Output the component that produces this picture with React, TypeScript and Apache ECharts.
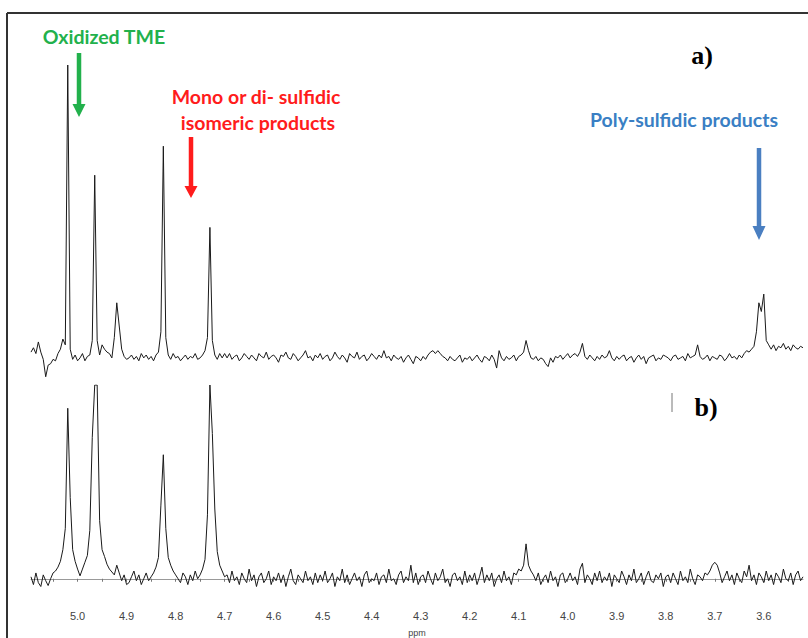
import React, { useEffect, useRef } from "react";
import * as echarts from "echarts";

// Sampling of the spectra (ppm axis, uniformly sampled, high -> low ppm)
const PPM_START = 5.095;
const PPM_STEP = 0.005;

// Trace a) intensities (relative units, baseline 0)
const TRACE_A = [
  1, 2.5, 0.5, 4.5, 1, -1.5, -7.5, -3.5, -3, -1.5, -2, 0.5, 2, 5.5, 3.5, 100, 2, -1.5, 0, -2,
  -1, 0.5, -2, -0.5, 0, 5, 62, 5, 0, 3.5, 2, 1, 0.5, -1, 6, 18, 10, 2, -0.5, -1.5,
  -1, 0, -1.5, -0.5, -2, 0.5, -1, 0, -1.5, -0.5, -2, 0, 1, 8, 72, 6, 0, -1.5, 0.5, -1,
  -0.5, -2, -1, 0, -1.5, -0.5, -1, 0.5, -1.5, -1, 0, 1.5, 6, 44, 5, 0, -1.5, 0.5, -1, 0.5,
  -1, 0.5, -1.5, -0.5, 0, -2, -1, 0.5, -0.5, -1.5, 0, -1, -2, 0.5, -0.5, -1, 1, -1.5, -0.5, 0,
  -1, -2.5, 0, -0.5, 1, -1, -1.5, 0.5, -0.5, -2, -1, 0, 1.5, -1, -0.5, -2, 0, -1, 0.5, -1.5,
  -0.5, 0, -2, -1, 1, -0.5, -1.5, 0, -1, -2.5, 0.5, -0.5, -1, 1, -1.5, -0.5, 0, -2, -1, 0.5,
  -0.5, -1.5, 0, -1, 1.5, -1, -0.5, -2, 0, -1, -1.5, -0.5, -2.5, -1, 0, -1.5, -3, -0.5, -1, -2,
  -0.5, -1.5, 0, 1, 1.5, 0.5, 1.5, 0.5, -0.5, -1, -2, -0.5, -1.5, -2, -1, 0, -2.5, -1, -1.5, -0.5,
  -2, -1, 0, -1.5, -2.5, -0.5, -1, -2, 0, -1.5, -4.5, 1.5, -1, -2, -0.5, -1.5, -1, 0, -2, -0.5,
  0, 1, 5, 1.5, -1, -1.5, -0.5, -2, -1, -1.5, -3, -4, -1, -2.5, -0.5, -1, 0, -1.5, -0.5, 0.5,
  -1, 0, 0.5, -0.5, 1, 4, -0.5, -1.5, 0, -1, -2, -0.5, -1.5, 0, -1, -0.5, 1.5, -1, -2, -0.5,
  -1.5, -0.5, 0, -2, -1, -0.5, -2.5, -1, 0, -1.5, -0.5, -3, -1, -0.5, 0, -2, -1, -1.5, 0, -0.5,
  -1, -2, -0.5, 0, -1.5, -1, -0.5, -2, 0.5, -1, -0.5, 0, 3.5, -0.5, -1.5, -1, 0, -2, -0.5, -1,
  -1.5, 0, -0.5, -2, -1, 0.5, -1, -0.5, -1.5, 0, -1, 0.5, 1.5, 1, 2, 3, 8, 18, 15, 21,
  5, 3.5, 2, 3.5, 1.5, 3, 2.5, 4, 2, 3, 1.5, 3.5, 2.5, 2, 3, 2.5,
];

// Trace b) intensities (relative units, baseline 0)
const TRACE_B = [
  1, -3, 3, -2, -4, 2, -1, -3.5, 0, 3, 4, 6, 9, 15, 26, 88, 42, 15, 9, 5,
  1.5, 5, 8.5, 12, 25, 73, 100, 100, 30, 15, 11.5, 7.5, 5, 3.5, 2, 7, 3, -1, 2, -3,
  -2, 1, 4, -1, 2, -3, 0, 3, -1, 1, 3, 6, 11, 38, 64, 26, 11, 7, 4, 2,
  0, -2, 3, 1, -3, 2, -1, 4, 0, 2, 5, 10, 33, 100, 75, 36, 14, 7, 4, 1,
  2, -2, 4, -1, 1, -3, 3, 0, -2, 5, -1, 2, -4, 1, 3, -2, 0, 4, -3, 1,
  -1, 3, -2, 2, -4, 1, 5, -1, -3, 2, 0, -2, 4, -1, 1, -3, 3, -2, 2, -1,
  4, -2, 0, 3, -4, 1, -1, 5, -2, 2, -3, 0, 3, -1, 1, -4, 2, 4, -2, 0,
  -1, 3, -3, 1, 2, -2, 5, -1, 0, -3, 2, 4, -2, 1, -1, 7, -2, 3, -3, 1,
  2, -2, 4, 0, -3, 3, -1, 1, 5, -2, 0, -4, 2, 3, -1, 1, -3, 4, -2, 2,
  -1, 3, -3, 1, 6, -2, 2, -1, 3, -4, 0, 2, -2, 4, -1, 1, -3, 3, 2, 5,
  4, 7, 18, 7, 4, 2, -1, 3, -3, 0, 2, -2, 4, -1, 1, -4, 2, 3, -2, 0,
  3, -1, 1, -3, 5, 8, -2, 2, 0, -3, 3, -1, 4, -2, 1, -1, 3, -4, 2, 0,
  -2, 4, 1, -3, 2, -1, 5, -2, 0, 3, -3, 1, 4, -1, -2, 2, 0, 3, -4, 1,
  2, -2, 3, 0, -3, 4, -1, 1, -2, 5, 0, -3, 2, 1, -1, 3, 2, 4, 7, 8.5,
  7, 3, -2, 1, 4, -1, 2, -3, 3, 0, -2, 4, 1, 7, -1, 2, -3, 3, 1, -2,
  4, -1, 2, -3, 3, 1, -2, 5, 0, -1, 3, -3, 2, 4, -1, 1,
];

const TICK_LABELS = [5.0, 4.9, 4.8, 4.7, 4.6, 4.5, 4.4, 4.3, 4.2, 4.1, 4.0, 3.9, 3.8, 3.7, 3.6];
const TICK_MARKS = [
  5.05, 5.0, 4.95, 4.9, 4.85, 4.8, 4.75, 4.7, 4.65, 4.6, 4.55, 4.5, 4.45, 4.4, 4.35, 4.3,
  4.25, 4.2, 4.15, 4.1, 4.05, 4.0, 3.95, 3.9, 3.85, 3.8, 3.75, 3.7, 3.65, 3.6, 3.55,
];
const X_MIN = 3.52;
const X_MAX = 5.095;

const toPairs = (arr: number[]) =>
  arr.map((v, i) => [Number((PPM_START - i * PPM_STEP).toFixed(3)), v]);

export default function App() {
  const ref = useRef<HTMLDivElement>(null);
  useEffect(() => {
    if (!ref.current) return;
    const chart = echarts.init(ref.current, null, { renderer: "svg" });
    const label = (text: string, x: number, y: number, fill: string, font: string) => ({
      type: "text",
      silent: true,
      style: {
        text, x, y, fill, font,
        align: "center", verticalAlign: "middle",
        textAlign: "center", textVerticalAlign: "middle",
      },
    });
    const arrow = (x: number, y0: number, y1: number, hw: number, hh: number, sw: number, color: string) => ({
      type: "polygon",
      silent: true,
      shape: {
        points: [
          [x - sw / 2, y0], [x + sw / 2, y0], [x + sw / 2, y1 - hh], [x + hw, y1 - hh],
          [x, y1], [x - hw, y1 - hh], [x - sw / 2, y1 - hh],
        ],
      },
      style: { fill: color },
    });
    const xBase = {
      type: "value",
      inverse: true,
      min: X_MIN,
      max: X_MAX,
      splitLine: { show: false },
    };
    chart.setOption({
      animation: false,
      backgroundColor: "#ffffff",
      grid: [
        { left: 31, right: 5, top: 65, height: 333.5 },
        { left: 31, right: 5, top: 385, height: 218 },
      ],
      xAxis: [
        { ...xBase, gridIndex: 0, show: false },
        {
          ...xBase,
          gridIndex: 1,
          name: "ppm",
          nameLocation: "middle",
          nameGap: 26,
          nameTextStyle: { fontSize: 9, color: "#444", fontFamily: "Liberation Sans" },
          axisLine: { show: true, lineStyle: { color: "#999", width: 1 } },
          axisTick: { show: true, length: 3, lineStyle: { color: "#777" }, customValues: TICK_MARKS },
          axisLabel: {
            customValues: TICK_LABELS,
            formatter: (v: number) => v.toFixed(1),
            fontSize: 11,
            color: "#444",
            fontFamily: "Liberation Sans",
            margin: 8,
          },
        },
      ],
      yAxis: [
        { type: "value", gridIndex: 0, min: -15, max: 100, show: false, splitLine: { show: false } },
        { type: "value", gridIndex: 1, min: -12, max: 100, show: false, splitLine: { show: false } },
      ],
      series: [
        {
          type: "line", xAxisIndex: 0, yAxisIndex: 0, data: toPairs(TRACE_A),
          showSymbol: false, lineStyle: { color: "#1a1a1a", width: 1 }, silent: true,
        },
        {
          type: "line", xAxisIndex: 1, yAxisIndex: 1, data: toPairs(TRACE_B),
          showSymbol: false, lineStyle: { color: "#1a1a1a", width: 1 }, silent: true,
        },
      ],
      graphic: [
        { type: "line", silent: true, shape: { x1: 7, y1: 13, x2: 808, y2: 13 }, style: { stroke: "#333", lineWidth: 2 } },
        { type: "line", silent: true, shape: { x1: 7, y1: 13, x2: 7, y2: 638 }, style: { stroke: "#333", lineWidth: 2 } },
        { type: "line", silent: true, shape: { x1: 672, y1: 393, x2: 672, y2: 412 }, style: { stroke: "#777", lineWidth: 1 } },
        label("Oxidized TME", 104, 36, "#22b14c", "bold 19.5px Lato"),
        label("Mono or di- sulfidic", 256, 96, "#ff1c1c", "bold 19.5px Lato"),
        label("isomeric products", 258, 122, "#ff1c1c", "bold 19.5px Lato"),
        label("Poly-sulfidic products", 684, 119, "#3a7fc4", "bold 19.5px Lato"),
        label("a)", 702, 55, "#000", "bold 26px 'Liberation Serif'"),
        label("b)", 706, 407, "#000", "bold 26px 'Liberation Serif'"),
        arrow(79, 53, 117, 6.5, 13, 4.5, "#22b14c"),
        arrow(191, 137, 198, 6.5, 12, 4.5, "#ff1c1c"),
        arrow(759, 148, 240, 6.5, 14, 4.5, "#4a7fc1"),
      ],
    });
    return () => chart.dispose();
  }, []);
  return (
    <div
      ref={ref}
      style={{ position: "fixed", left: 0, top: 0, width: 808, height: 638, background: "#fff" }}
    />
  );
}
